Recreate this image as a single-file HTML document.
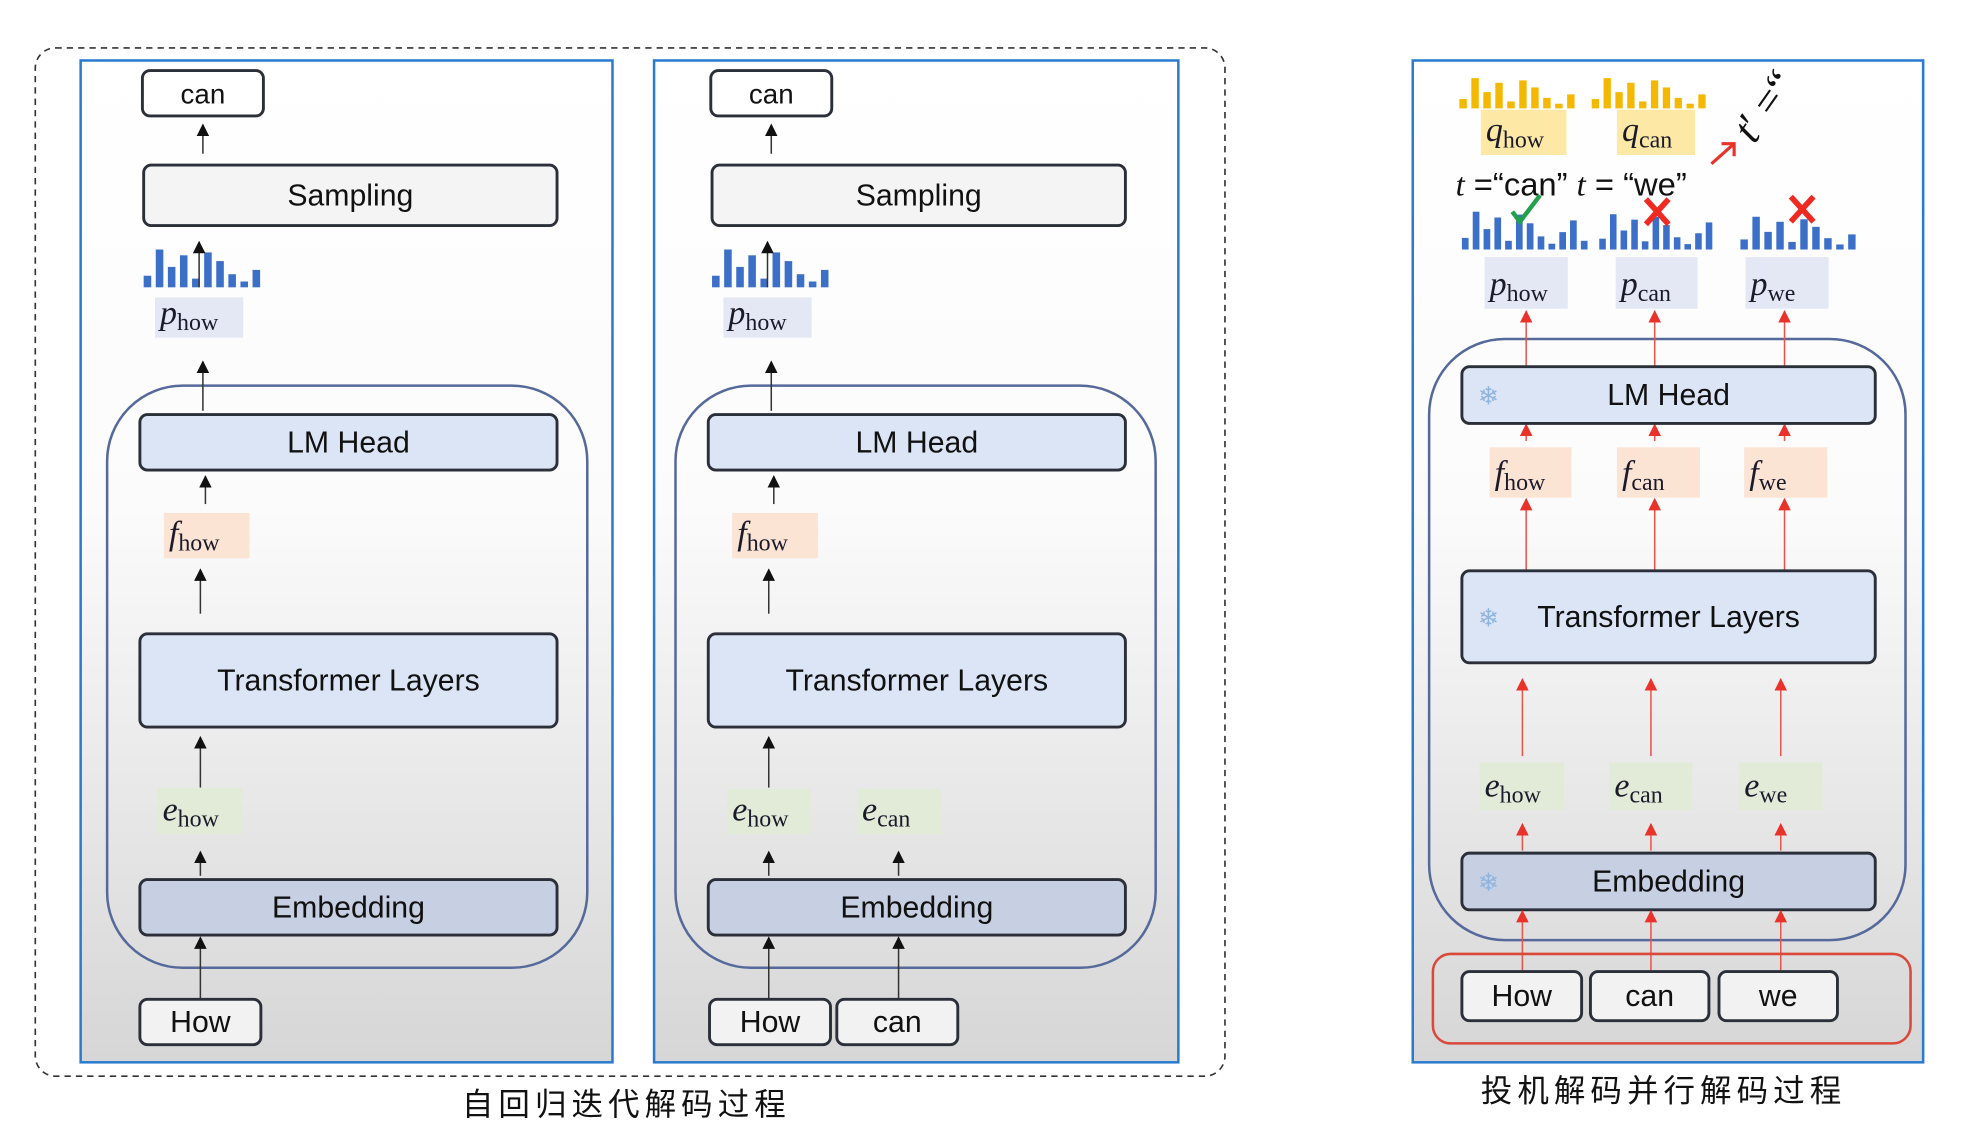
<!DOCTYPE html>
<html><head><meta charset="utf-8"><style>
html,body{margin:0;padding:0;background:#fff;}
svg{display:block}
.lbl{font-family:"Liberation Sans",sans-serif;font-size:24px;fill:#111;text-anchor:middle}
.m{font-family:"Liberation Serif",serif;fill:#1a1a2a}
.cn{font-family:"Liberation Sans","Noto Sans CJK SC",sans-serif;font-size:25px;fill:#111;text-anchor:middle;letter-spacing:4px}
</style></head><body>
<svg id="s" width="1966" height="1132" viewBox="0 0 1560 898.3" preserveAspectRatio="none" xmlns="http://www.w3.org/2000/svg">
<defs>
<linearGradient id="bg" x1="0" y1="0" x2="0" y2="1">
<stop offset="0" stop-color="#ffffff"/><stop offset="0.45" stop-color="#fbfbfb"/><stop offset="1" stop-color="#d6d6d6"/>
</linearGradient>
<marker id="ab" viewBox="0 0 10 10" refX="9" refY="5" markerWidth="10" markerHeight="10" orient="auto" markerUnits="userSpaceOnUse"><path d="M0,0 L10,5 L0,10 z" fill="#111"/></marker>
<marker id="ar" viewBox="0 0 10 10" refX="9" refY="5" markerWidth="10" markerHeight="10" orient="auto" markerUnits="userSpaceOnUse"><path d="M0,0 L10,5 L0,10 z" fill="#e8322a"/></marker>
</defs>
<rect x="28" y="38" width="944" height="816" rx="16" fill="none" stroke="#333" stroke-width="1.3" stroke-dasharray="5,4"/>
<rect x="64" y="48" width="422" height="795" fill="url(#bg)" stroke="#2a7bd0" stroke-width="2"/>
<rect x="519" y="48" width="416" height="795" fill="url(#bg)" stroke="#2a7bd0" stroke-width="2"/>
<rect x="1121" y="48" width="405" height="795" fill="url(#bg)" stroke="#2a7bd0" stroke-width="2"/>
<g id="g"></g>
<text class="cn" x="497" y="885">自回归迭代解码过程</text>
<text class="cn" x="1320" y="874">投机解码并行解码过程</text>
</svg>
<script>
var g=document.getElementById('g'),h='';
function box(x,y,w,hh,fill,t,fs){h+='<rect x="'+x+'" y="'+y+'" width="'+w+'" height="'+hh+'" rx="6" fill="'+fill+'" stroke="#2b2f3a" stroke-width="2.3"/>';h+='<text class="lbl" x="'+(x+w/2)+'" y="'+(y+hh/2+8)+'" style="font-size:'+(fs||24)+'px">'+t+'</text>';}
function ar(x,y1,y2,red){h+='<line x1="'+x+'" y1="'+y1+'" x2="'+x+'" y2="'+y2+'" stroke="'+(red?'#e8544a':'#333')+'" stroke-width="1.2" marker-end="url(#'+(red?'ar':'ab')+')"/>';}
function lab(x,y,w,hh,bg,v,sub){h+='<rect x="'+x+'" y="'+y+'" width="'+w+'" height="'+hh+'" fill="'+bg+'"/>';h+='<text class="m" x="'+(x+4)+'" y="'+(y+hh-11)+'"><tspan font-style="italic" font-size="27">'+v+'</tspan><tspan font-size="19" dy="5">'+sub+'</tspan></text>';}
var H=[8,26,14,22,6,24,18,9,4,12,20,6];
function bars(x0,x1,yb,col,mx,n){n=n||10;var p=(x1-x0)/n;for(var i=0;i<n;i++){var hh=H[i%H.length]/26*mx;h+='<rect x="'+(x0+i*p).toFixed(1)+'" y="'+(yb-hh).toFixed(1)+'" width="'+(p*0.62).toFixed(1)+'" height="'+hh.toFixed(1)+'" fill="'+col+'"/>';}}
function cont(x,y,w,hh){h+='<rect x="'+x+'" y="'+y+'" width="'+w+'" height="'+hh+'" rx="60" fill="none" stroke="#55699a" stroke-width="2"/>';}
[[0,1],[451,2]].forEach(function(P){var o=P[0];
 cont(85+o,306,381,462);
 box(113+o,56,96,36,'#fff','can',22);
 ar(161+o,122,99);
 box(114+o,131,328,48,'#f4f4f4','Sampling');
 bars(114+o,210+o,228,'#3c70c8',30);
 ar(158+o,228,192);
 lab(123+o,236,70,32,'#e4e8f4','p','how');
 ar(161+o,326,287);
 box(111+o,329,331,44,'#dce5f5','LM Head');
 ar(163+o,400,378);
 lab(130+o,407,68,36,'#fbe4d4','f','how');
 ar(159+o,487,452);
 box(111+o,503,331,74,'#dce5f6','Transformer Layers');
 ar(159+o,625,585);
 box(111+o,698,331,44,'#c7cfe2','Embedding');
 if(P[1]==1){lab(125,625,67,37,'#e2ebd8','e','how');ar(159,695,676);ar(159,792,744);box(111,793,96,36,'#f2f2f2','How');}
 else{lab(577,626,66,36,'#e2ebd8','e','how');lab(680,626,67,36,'#e2ebd8','e','can');ar(610,695,676);ar(713,695,676);ar(610,792,744);ar(713,792,744);box(563,793,96,36,'#f2f2f2','How');box(664,793,96,36,'#f2f2f2','can');}
});
cont(1134,269,378,477);
bars(1158,1253,86,'#f5b800',24,10);bars(1263,1357,86,'#f5b800',24,10);
lab(1175,87,68,36,'#fde8a6','q','how');lab(1283,87,62,36,'#fde8a6','q','can');
h+='<text x="1155" y="155" font-family="Liberation Sans,sans-serif" font-size="26" fill="#111"><tspan font-family="Liberation Serif,serif" font-style="italic">t</tspan> =“can” <tspan font-family="Liberation Serif,serif" font-style="italic">t</tspan> = “we”</text>';
h+='<text x="1392" y="115" font-family="Liberation Serif,serif" font-size="34" fill="#111" transform="rotate(-55 1392 115)"><tspan font-style="italic">t</tspan>′ =“</text>';
h+='<path d="M1358,130 L1376,114 M1366,114 L1376,114 L1376,124" stroke="#e8322a" stroke-width="2.5" fill="none"/>';
bars(1160,1263,198,'#3c70c8',30,12);bars(1269,1362,198,'#3c70c8',28,11);bars(1381,1476,198,'#3c70c8',26,10);
h+='<path d="M1200,168 L1206,176 L1222,155" stroke="#22a04a" stroke-width="3.5" fill="none"/>';
h+='<path d="M1306,158 L1324,178 M1324,158 L1306,178 M1421,156 L1439,176 M1439,156 L1421,176" stroke="#ee2a22" stroke-width="4.5"/>';
lab(1178,204,66,41,'#e4e8f4','p','how');lab(1282,204,65,41,'#e4e8f4','p','can');lab(1385,204,66,41,'#e4e8f4','p','we');
[1211,1313,1416].forEach(function(x){ar(x,290,247,1);ar(x,350,337,1);ar(x,455,396,1);});
box(1160,291,328,45,'#dce5f5','LM Head');
box(1160,453,328,73,'#dce5f6','Transformer Layers');
box(1160,677,328,45,'#c7cfe2','Embedding');
lab(1182,355,65,40,'#fbe4d4','f','how');lab(1283,355,66,40,'#fbe4d4','f','can');lab(1384,355,66,40,'#fbe4d4','f','we');
[1208,1310,1413].forEach(function(x){ar(x,600,539,1);ar(x,675,654,1);ar(x,770,723,1);});
lab(1174,605,67,38,'#e2ebd8','e','how');lab(1277,605,66,38,'#e2ebd8','e','can');lab(1380,605,66,38,'#e2ebd8','e','we');
[314,490,700].forEach(function(y){h+='<text x="1181" y="'+(y+7)+'" font-size="20" fill="#8fb4de" text-anchor="middle" font-family="DejaVu Sans,sans-serif">❄</text>';});
h+='<rect x="1137" y="757" width="379" height="71" rx="14" fill="none" stroke="#d8493a" stroke-width="2"/>';
box(1160,771,95,39,'#f2f2f2','How');box(1262,771,94,39,'#f2f2f2','can');box(1364,771,94,39,'#f2f2f2','we');
g.innerHTML=h;
</script>
</body></html>
